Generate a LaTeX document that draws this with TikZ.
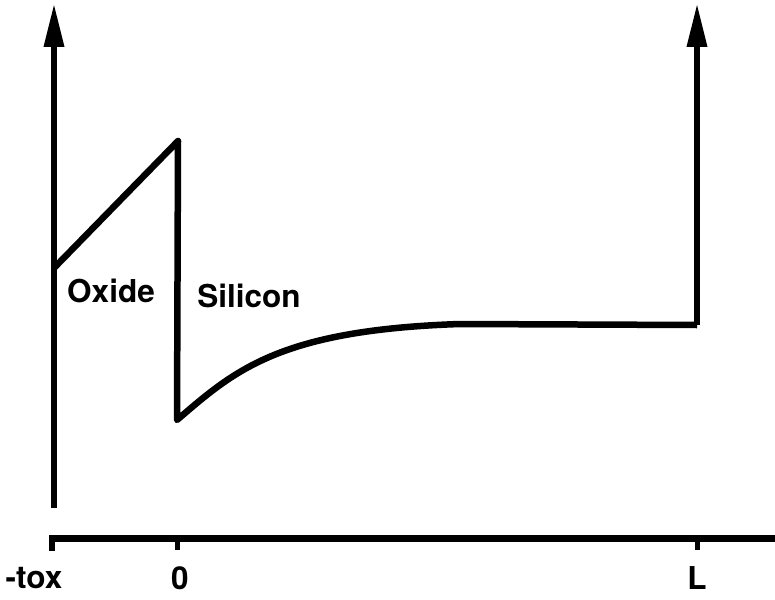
\documentclass[tikz,border=0pt]{standalone}
\usepackage{fontspec}
\setmainfont{TeX Gyre Heros}
\usetikzlibrary{arrows.meta}
\begin{document}
\begin{tikzpicture}[x=1pt,y=-1pt,
  line/.style={line width=6.5pt,line join=miter,line cap=butt},
  axarrow/.style={-{Triangle[length=44pt,width=19pt]}},
  lab/.style={font=\fontsize{31.5}{34}\selectfont\bfseries,inner sep=0pt}]
\useasboundingbox (0,0) rectangle (775,599);
% coordinates
\coordinate (lb) at (54,508);
\coordinate (lt) at (54,3);
\coordinate (rb) at (697,325);
\coordinate (rt) at (697,3);
\coordinate (s0) at (54,268);
\coordinate (s1) at (178,141);
\coordinate (s2) at (177,420);
\coordinate (s3) at (460,324);
% axes
\draw[line,axarrow] (lb) -- (lt);
\draw[line,axarrow] (rb) -- (rt);
% profile
\draw[line,line join=round] (s0) -- (s1) -- (s2) .. controls (235,370) and (280,330) .. (s3) -- (rb);
% horizontal axis
\coordinate (h0) at (51,538);
\coordinate (h1) at (775,538);
\draw[line width=7pt] (h0) -- (h1);
\coordinate (t0a) at (52,535);
\coordinate (t0b) at (52,551);
\coordinate (t1a) at (177,535);
\coordinate (t1b) at (177,550);
\coordinate (t2a) at (697,535);
\coordinate (t2b) at (697,550);
\draw[line width=6pt] (t0a) -- (t0b);
\draw[line width=5pt] (t1a) -- (t1b);
\draw[line width=5pt] (t2a) -- (t2b);
% labels
\node[lab] (tox) at (34,578) {-tox};
\node[lab] (zero) at (180,578) {0};
\node[lab] (ell) at (697,578) {L};
\node[lab] (oxide) at (111,291) {Oxide};
\node[lab] (silicon) at (249,296) {Silicon};
\end{tikzpicture}
\end{document}
